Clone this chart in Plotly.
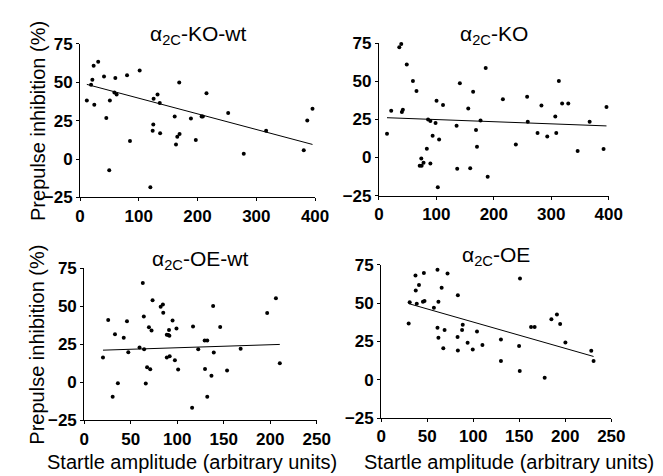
import plotly.graph_objects as go

W, H = 663, 476

# alpha2C-KO-wt
ko_wt_x = [11.6, 18.8, 21, 23.2, 24.3, 30.9, 40.8, 44.7, 49.7, 50.8, 58.5, 60.1, 62.3, 80, 85,
           101.5, 119.7, 123.6, 124.7, 125.2, 131.9, 135.7, 136.3, 161.1, 163.3, 165.5, 168.8,
           169.4, 188.7, 197, 206.9, 209, 215.2, 252.1, 278.6, 316.7, 380.7, 386.7, 395.6]
ko_wt_y = [38.2, 48.4, 51.6, 60.8, 35.3, 63.3, 53.7, 26.7, -7.2, 38.2, 43.4, 52.8, 42, 54.5, 11.8,
           57.6, -18.3, 18.5, 22.5, 39.2, 42, 36.5, 16.8, 27.7, 9.5, 14.5, 49.9,
           16.4, 26.5, 12.5, 27.7, 27.7, 42.8, 30, 3.5, 18.5, 5.8, 25.2, 32.7]

# alpha2C-KO
ko_x = [14.1, 21.4, 35.5, 38.9, 40, 41.7, 48.5, 59.2, 65.4, 71, 73.8, 74.4, 77.7, 83.4, 85.6,
        89.6, 89.6, 93.5, 98.6, 100.3, 102.5, 104.8, 111.6, 135.2, 136.3, 140.9, 155.5, 158.9,
        164, 169, 170.7, 176.9, 185.9, 189.3, 215.8, 238.3, 258, 259.1, 276.1, 282.9, 293, 307,
        308.7, 313.2, 318.9, 329.6, 345.9, 366.8, 391, 396.1]
ko_y = [15.5, 30.7, 72.3, 74.5, 29.8, 31.3, 61.1, 50.2, 43.7, -5.5, -0.6, -5.5, -3.4, 5.7, 25,
        24, -4, 14.3, 22.7, 37.2, -19.5, 11.8, 34.5, 20.8, -7.4, 48.7, 32.1, -7,
        43.1, 18.1, 7.1, 24.2, 58.8, -12.6, 38.2, 8.6, 39.9, 23.5, 16, 34.2, 13.7, 26.9,
        16, 50.2, 35.5, 35.5, 4.2, 23.5, 5.5, 33.2]

# alpha2C-OE-wt
oe_wt_x = [20.2, 25.8, 30.6, 33.1, 36.2, 42.5, 46, 47.4, 59.5, 63, 64.1, 64.4, 66.2, 67.6, 69.6,
           71, 72.4, 73.5, 82.2, 84.6, 85, 88.8, 88.8, 90.5, 91.2, 91.9, 91.6, 95, 97.5, 99.2,
           101, 116, 117, 122.6, 129.5, 132.3, 129.9, 132.3, 136.8, 138.6, 139.3, 146.2, 153.6,
           168.2, 196.7, 206.1, 210.3]
oe_wt_y = [16.3, 40.9, -9.6, 31.6, -0.6, 29.3, 40.1, 19.8, 22.8, 65.3, 43.2, 21.7, -0.8, 9.9, 36.1,
           8.5, 34, 54, 49.7, 51.2, 45.7, 31.2, 16.3, 31, 34.4, 17.1, 30.6, 40.7, 14.4, 35.4,
           8.3, -16.8, 36.7, 21.7, 27.4, 27.4, 8.7, -9.6, 4.3, 50.2, 19.6, 36.3, 7.8,
           22, 45.5, 55.2, 12.5]

# alpha2C-OE
oe_x = [29.9, 31, 37.3, 37.6, 38.7, 41.1, 45.4, 46.4, 47.1, 57.3, 61.2, 61.2, 62.2, 62.2, 65.7,
        67.5, 68.9, 72.1, 83, 83.3, 83.3, 87.9, 88.6, 93.9, 99.5, 104.1, 110, 130.1, 130.1,
        149.8, 150.8, 150.5, 162.8, 166.7, 177.6, 184.9, 190.9, 194.4, 200.1, 228.2, 230.7]
oe_y = [36.7, 50.7, 68.1, 58.3, 49.7, 62, 50.9, 69.8, 51.4, 47, 71.9, 34, 50.9, 27.5, 60.1,
        20.6, 32.5, 69.4, 27.9, 55.3, 19.1, 32.5, 35.9, 24.2, 19.8, 31.5, 22.7, 26.3, 12.2,
        22.1, 66.2, 5.8, 34.4, 34.4, 1.4, 39.6, 42.6, 36.5, 24.4, 18.9, 12.2]

titles = ["α<sub>2C</sub>-KO-wt", "α<sub>2C</sub>-KO", "α<sub>2C</sub>-OE-wt", "α<sub>2C</sub>-OE"]
# regression lines: intercept, slope
fit_intercept = [49.8, 26.3, 20.7, 54.9]
fit_slope = [-0.1018, -0.0141, 0.0199, -0.172]
x_max = [400, 400, 250, 250]
x_dtick = [100, 100, 50, 50]
y_ticks = [-25, 0, 25, 50, 75]

series = [(ko_wt_x, ko_wt_y), (ko_x, ko_y), (oe_wt_x, oe_wt_y), (oe_x, oe_y)]

# panel plot areas in pixels: left, right, top(75), bottom(-25)
boxes = [(69, 311, 28, 188), (376.7, 613.3, 27.3, 186),
         (73.3, 312.7, 261.7, 420), (379, 616, 258.3, 417.7)]


def px(x):
    return x / W


def py(y):
    return 1 - y / H


font = "Liberation Sans, Arial, sans-serif"
fig = go.Figure()
layout = {}
annotations = []

for i, ((xs, ys), box) in enumerate(zip(series, boxes)):
    n = "" if i == 0 else str(i + 1)
    xa, ya = "x" + n, "y" + n
    fig.add_trace(go.Scatter(x=xs, y=ys, mode="markers", xaxis=xa, yaxis=ya,
                             marker=dict(color="black", size=4), cliponaxis=False,
                             showlegend=False))
    x0, x1 = min(xs), max(xs)
    fig.add_trace(go.Scatter(x=[x0, x1],
                             y=[fit_intercept[i] + fit_slope[i] * x0,
                                fit_intercept[i] + fit_slope[i] * x1],
                             mode="lines", xaxis=xa, yaxis=ya,
                             line=dict(color="black", width=1), showlegend=False))
    l, r, t, b = box
    common = dict(showline=True, linecolor="black", linewidth=1, ticks="outside",
                  ticklen=3, tickcolor="black", showgrid=False, zeroline=False,
                  tickfont=dict(family=font, size=17, color="black", weight="bold"))
    layout["xaxis" + n] = dict(domain=[px(l), px(r)], range=[0, x_max[i]],
                               dtick=x_dtick[i], tick0=0, anchor=ya, **common)
    layout["yaxis" + n] = dict(domain=[py(b), py(t)], range=[-25, 75],
                               tickvals=y_ticks, anchor=xa, **common)
    annotations.append(dict(text=titles[i], xref="paper", yref="paper",
                            x=px((l + r) / 2), y=py(t - 9), xanchor="center",
                            yanchor="middle", showarrow=False,
                            font=dict(family=font, size=21, color="black")))

# axis titles
for cy in [108, 341]:
    annotations.append(dict(text="Prepulse inhibition (%)", xref="paper", yref="paper",
                            x=px(25), y=py(cy), textangle=-90, showarrow=False,
                            xanchor="center", yanchor="middle",
                            font=dict(family=font, size=20, color="black")))
for cx in [184, 511]:
    annotations.append(dict(text="Startle amplitude (arbitrary units)", xref="paper",
                            yref="paper", x=px(cx), y=py(463), showarrow=False,
                            xanchor="center", yanchor="middle",
                            font=dict(family=font, size=20, color="black")))

fig.update_layout(width=W, height=H, margin=dict(l=0, r=0, t=0, b=0),
                  plot_bgcolor="white", paper_bgcolor="white",
                  annotations=annotations, **layout)

fig.write_html("out.html")
